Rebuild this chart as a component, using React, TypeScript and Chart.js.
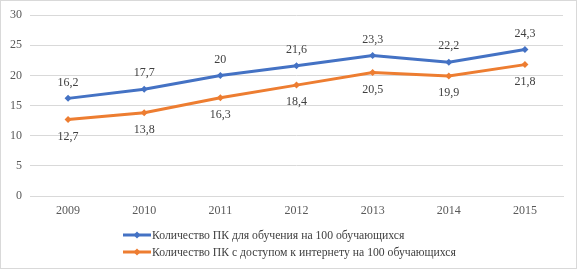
import React, { useEffect, useRef } from "react";
import { Chart, registerables } from "chart.js";

Chart.register(...registerables);

const years = ["2009", "2010", "2011", "2012", "2013", "2014", "2015"];
const pcStudy = [16.2, 17.7, 20, 21.6, 23.3, 22.2, 24.3];
const pcInternet = [12.7, 13.8, 16.3, 18.4, 20.5, 19.9, 21.8];
const seriesNames = [
  "Количество ПК для обучения на 100 обучающихся",
  "Количество ПК с доступом к интернету на 100 обучающихся",
];
const colors = ["#4472C4", "#ED7D31"];

const FONT = "'Liberation Serif', 'Times New Roman', serif";

const fmt = (v: number) => String(v).replace(".", ",");

const extrasPlugin = {
  id: "extras",
  afterDraw(chart: any) {
    const ctx = chart.ctx;
    ctx.save();
    // data labels
    ctx.font = `12px ${FONT}`;
    ctx.fillStyle = "#404040";
    ctx.textAlign = "center";
    ctx.textBaseline = "middle";
    chart.data.datasets.forEach((ds: any, i: number) => {
      const meta = chart.getDatasetMeta(i);
      meta.data.forEach((pt: any, j: number) => {
        const dy = i === 0 ? -16 : 17;
        ctx.fillText(fmt(ds.data[j]), pt.x, pt.y + dy);
      });
    });
    // legend
    const lx = 123;
    const rows = [235, 252];
    ctx.textAlign = "left";
    ctx.font = `11.7px ${FONT}`;
    seriesNames.forEach((name, i) => {
      const y = rows[i];
      ctx.strokeStyle = colors[i];
      ctx.lineWidth = 3;
      ctx.beginPath();
      ctx.moveTo(lx, y);
      ctx.lineTo(lx + 28, y);
      ctx.stroke();
      ctx.fillStyle = colors[i];
      ctx.beginPath();
      const cx = lx + 14;
      ctx.moveTo(cx, y - 3.5);
      ctx.lineTo(cx + 3.5, y);
      ctx.lineTo(cx, y + 3.5);
      ctx.lineTo(cx - 3.5, y);
      ctx.closePath();
      ctx.fill();
      ctx.fillStyle = "#404040";
      ctx.fillText(name, lx + 29, y + 0.5);
    });
    // border
    ctx.strokeStyle = "#d9d9d9";
    ctx.lineWidth = 1;
    ctx.strokeRect(0.5, 0.5, 576, 268);
    ctx.restore();
  },
};

export default function App() {
  const ref = useRef<HTMLCanvasElement | null>(null);
  useEffect(() => {
    document.body.style.margin = "0";
    const canvas = ref.current!;
    const chart = new Chart(canvas, {
      type: "line",
      data: {
        labels: years,
        datasets: [
          {
            label: seriesNames[0],
            data: pcStudy,
            borderColor: colors[0],
            backgroundColor: colors[0],
            borderWidth: 3,
            pointStyle: "rectRot",
            pointRadius: 3.5,
            pointBorderWidth: 0,
            tension: 0,
          },
          {
            label: seriesNames[1],
            data: pcInternet,
            borderColor: colors[1],
            backgroundColor: colors[1],
            borderWidth: 3,
            pointStyle: "rectRot",
            pointRadius: 3.5,
            pointBorderWidth: 0,
            tension: 0,
          },
        ],
      },
      options: {
        animation: false,
        responsive: false,
        layout: { padding: { left: 0, top: 15, right: 15, bottom: 50 } },
        plugins: {
          legend: { display: false },
          tooltip: { enabled: false },
        },
        scales: {
          x: {
            offset: true,
            grid: { display: false, drawTicks: false },
            border: { display: true, color: "#d9d9d9", width: 1 },
            ticks: {
              padding: 8,
              color: "#595959",
              font: { family: FONT, size: 12 },
              maxRotation: 0,
            },
            afterFit: (s: any) => {
              s.height = 24;
            },
          },
          y: {
            min: 0,
            max: 30,
            grid: { color: "#d9d9d9", drawTicks: false },
            border: { display: false },
            ticks: {
              stepSize: 5,
              padding: 8,
              color: "#595959",
              font: { family: FONT, size: 12 },
            },
            afterFit: (s: any) => {
              s.width = 30;
            },
          },
        },
      },
      plugins: [extrasPlugin],
    });
    return () => chart.destroy();
  }, []);
  return <canvas ref={ref} width={578} height={270} style={{ display: "block" }} />;
}
